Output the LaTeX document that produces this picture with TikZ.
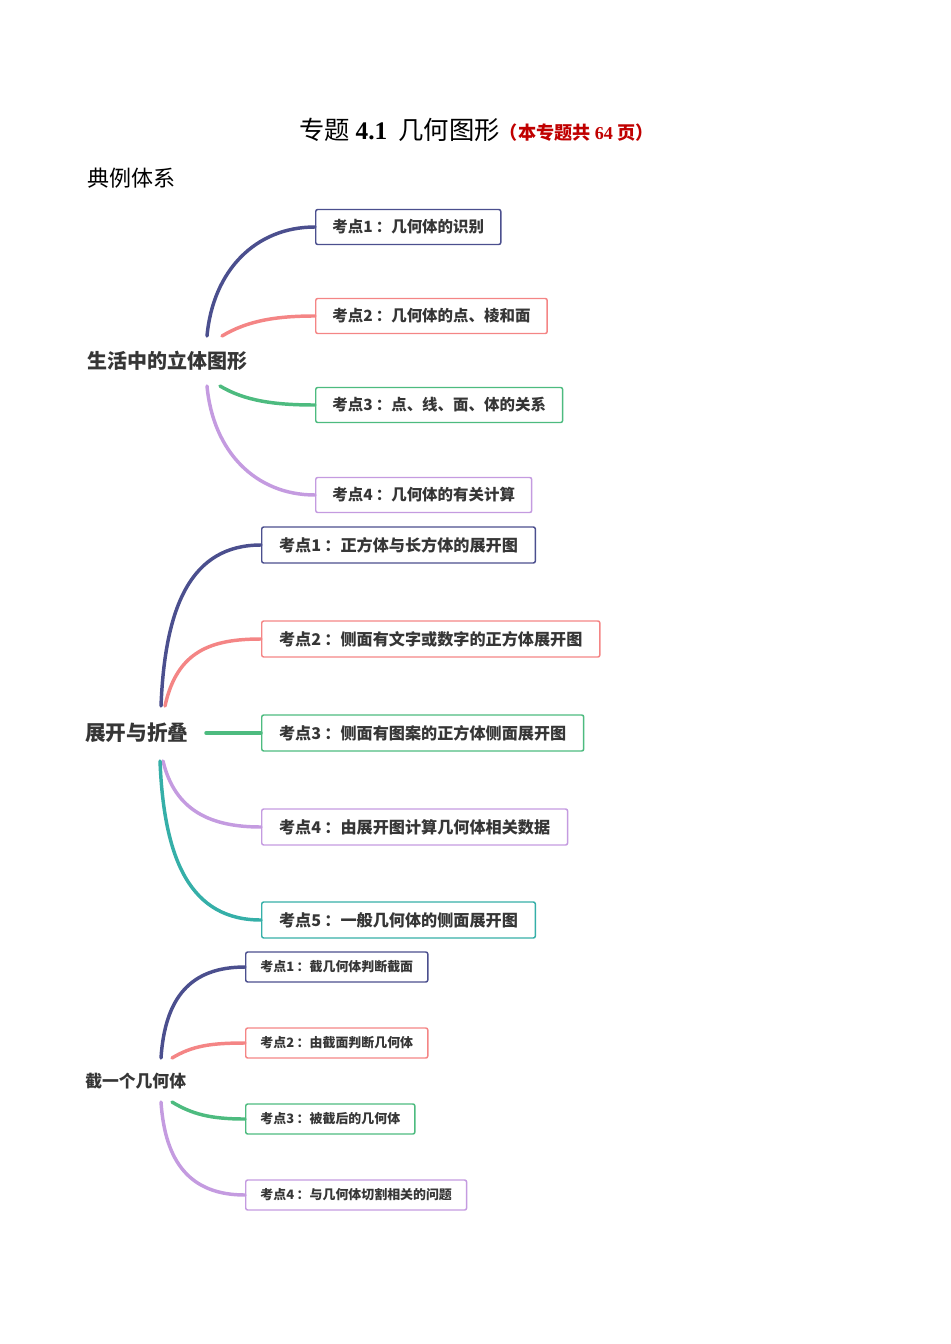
\documentclass[tikz,border=0pt]{standalone}
\usepackage{fontspec}
\setmainfont{Liberation Serif}
\newfontfamily\cjk{Noto Sans CJK SC}
\definecolor{navy}{HTML}{4B4F8E}
\definecolor{pinkc}{HTML}{F48585}
\definecolor{greenc}{HTML}{4DBB7F}
\definecolor{purplec}{HTML}{C49BE0}
\definecolor{tealc}{HTML}{35AFA8}
\definecolor{textc}{HTML}{363636}
\definecolor{titlered}{HTML}{C00000}
\newcommand{\kd}[2]{\textcolor{textc}{考点#1\hspace{0.2em}：#2}}
\tikzset{
  box/.style={draw, line width=1.1pt, rounded corners=1.5pt, anchor=west, text=textc, inner ysep=0pt},
  boxA/.style={box, minimum height=26.25pt, inner xsep=12.5pt, font=\cjk\bfseries\fontsize{11.6}{12}\selectfont},
  boxB/.style={box, minimum height=27pt, inner xsep=13pt, font=\cjk\bfseries\fontsize{12.1}{13}\selectfont},
  boxC/.style={box, minimum height=22.5pt, inner xsep=11pt, font=\cjk\bfseries\fontsize{9.7}{11}\selectfont},
  root/.style={anchor=west, inner sep=0, text=textc},
  branch/.style={line width=2.6pt, line cap=round}
}
\begin{document}
\begin{tikzpicture}[x=0.75pt,y=-0.75pt]
\useasboundingbox (0,0) rectangle (950,1344);

\node[anchor=west, inner sep=0] (title) at (299,130) {\fontsize{19}{21}\selectfont\cjk 专题 \textbf{\rmfamily 4.1}\ \ 几何图形{\color{titlered}\bfseries\fontsize{13.6}{15}\selectfont （本专题共 \textbf{\rmfamily 64} 页）}};
\node[anchor=west, inner sep=0] (sys) at (87,178) {\fontsize{16.5}{18}\selectfont\cjk 典例体系};

\node[root, font=\cjk\bfseries\fontsize{15}{16}\selectfont] (r1) at (87,361) {生活中的立体图形};
\node[boxA, color=navy] (a1) at (315,227) {\kd{1}{几何体的识别}};
\node[boxA, color=pinkc] (a2) at (315,316) {\kd{2}{几何体的点、棱和面}};
\node[boxA, color=greenc] (a3) at (315,405) {\kd{3}{点、线、面、体的关系}};
\node[boxA, color=purplec] (a4) at (315,495) {\kd{4}{几何体的有关计算}};
\coordinate (r1a) at (207,336);
\coordinate (r1b) at (222,336);
\coordinate (r1c) at (220,386);
\coordinate (r1d) at (207,386);
\draw[branch, navy] (r1a) .. controls +(6,-65) and +(-60,0) .. (a1.west);
\draw[branch, pinkc] (r1b) .. controls +(25,-15) and +(-40,0) .. (a2.west);
\draw[branch, greenc] (r1c) .. controls +(25,15) and +(-40,0) .. (a3.west);
\draw[branch, purplec] (r1d) .. controls +(6,65) and +(-60,0) .. (a4.west);

\node[root, font=\cjk\bfseries\fontsize{15.5}{17}\selectfont] (r2) at (85,733) {展开与折叠};
\node[boxB, color=navy] (b1) at (261,545) {\kd{1}{正方体与长方体的展开图}};
\node[boxB, color=pinkc] (b2) at (261,639) {\kd{2}{侧面有文字或数字的正方体展开图}};
\node[boxB, color=greenc] (b3) at (261,733) {\kd{3}{侧面有图案的正方体侧面展开图}};
\node[boxB, color=purplec] (b4) at (261,827) {\kd{4}{由展开图计算几何体相关数据}};
\node[boxB, color=tealc] (b5) at (261,920) {\kd{5}{一般几何体的侧面展开图}};
\coordinate (r2a) at (161,706);
\coordinate (r2b) at (165,706);
\coordinate (r2c) at (206,733);
\coordinate (r2d) at (163,761);
\coordinate (r2e) at (160,761);
\draw[branch, navy] (r2a) .. controls +(4,-100) and +(-70,0) .. (b1.west);
\draw[branch, pinkc] (r2b) .. controls +(12,-55) and +(-50,0) .. (b2.west);
\draw[branch, greenc] (r2c) -- (b3.west);
\draw[branch, purplec] (r2d) .. controls +(12,50) and +(-50,0) .. (b4.west);
\draw[branch, tealc] (r2e) .. controls +(4,100) and +(-70,0) .. (b5.west);

\node[root, font=\cjk\bfseries\fontsize{12.6}{14}\selectfont] (r3) at (85,1081) {截一个几何体};
\node[boxC, color=navy] (c1) at (245,967) {\kd{1}{截几何体判断截面}};
\node[boxC, color=pinkc] (c2) at (245,1043) {\kd{2}{由截面判断几何体}};
\node[boxC, color=greenc] (c3) at (245,1119) {\kd{3}{被截后的几何体}};
\node[boxC, color=purplec] (c4) at (245,1195) {\kd{4}{与几何体切割相关的问题}};
\coordinate (r3a) at (161,1058);
\coordinate (r3b) at (172,1058);
\coordinate (r3c) at (172,1102);
\coordinate (r3d) at (161,1102);
\draw[branch, navy] (r3a) .. controls +(4,-60) and +(-55,0) .. (c1.west);
\draw[branch, pinkc] (r3b) .. controls +(20,-12) and +(-35,0) .. (c2.west);
\draw[branch, greenc] (r3c) .. controls +(20,12) and +(-35,0) .. (c3.west);
\draw[branch, purplec] (r3d) .. controls +(4,60) and +(-55,0) .. (c4.west);
\end{tikzpicture}
\end{document}
